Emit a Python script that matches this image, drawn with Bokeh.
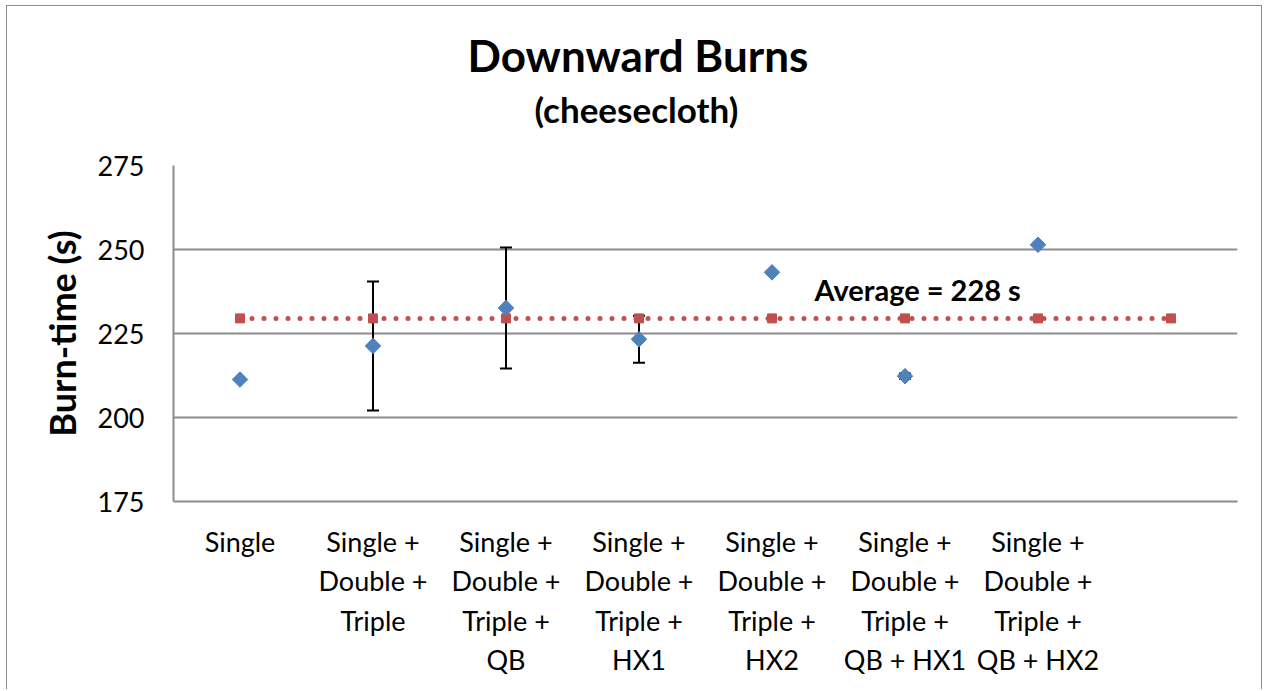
from bokeh.plotting import figure
from bokeh.models import (ColumnDataSource, FactorRange, Whisker, TeeHead, Label,
                          Title, FixedTicker)
from bokeh.embed import file_html
from bokeh.resources import INLINE

# ---- data ----
categories = ["Single", "Single +\nDouble +\nTriple", "Single +\nDouble +\nTriple +\nQB",
              "Single +\nDouble +\nTriple +\nHX1", "Single +\nDouble +\nTriple +\nHX2",
              "Single +\nDouble +\nTriple +\nQB + HX1", "Single +\nDouble +\nTriple +\nQB + HX2"]
burn_time = [211.3, 221.3, 232.6, 223.3, 243.2, 212.3, 251.4]
burn_err = [0.0, 19.2, 18.0, 7.0, 0.0, 0.8, 0.0]
extra_slot = " "
average_value = 229.5
y_ticks = [175, 200, 225, 250, 275]
title_text = "Downward Burns"
subtitle_text = "(cheesecloth)"
avg_text = "Average = 228 s"

FONT = "Lato"
all_factors = categories + [extra_slot]

p = figure(width=1256, height=684, output_backend="svg", toolbar_location=None,
           x_range=FactorRange(factors=all_factors, range_padding=0),
           y_range=(175, 275), title=None,
           min_border_left=166, min_border_right=26, min_border_top=159, min_border_bottom=189)
p.styles = {"border-top": "1px solid #8c8c8c", "border-left": "1px solid #8c8c8c",
            "border-right": "1px solid #8c8c8c", "margin-left": "6px", "margin-top": "5px"}

p.add_layout(Title(text=subtitle_text, align="left", text_font=FONT,
                   text_font_size="35px", text_font_style="bold", text_color="black",
                   offset=361, standoff=72), "above")
p.add_layout(Title(text=title_text, align="left", text_font=FONT,
                   text_font_size="44px", text_font_style="bold", text_color="black",
                   offset=294, standoff=-63), "above")

p.outline_line_color = None
p.background_fill_color = "white"
p.border_fill_color = "white"
p.xgrid.grid_line_color = None
p.ygrid.grid_line_color = "#8c8c8c"
p.ygrid.grid_line_width = 2
p.yaxis.ticker = FixedTicker(ticks=y_ticks)

for ax in (p.xaxis, p.yaxis):
    ax.axis_line_color = "#8c8c8c"
    ax.axis_line_width = 2
    ax.major_tick_line_color = None
    ax.minor_tick_line_color = None
    ax.major_label_text_font = FONT
    ax.major_label_text_color = "black"

p.yaxis.major_label_text_font_size = "27px"
p.xaxis.major_label_text_font_size = "27px"
p.yaxis.axis_label = "Burn-time (s)"
p.yaxis.axis_label_text_font = FONT
p.yaxis.axis_label_text_font_size = "36px"
p.yaxis.axis_label_text_font_style = "bold"
p.yaxis.axis_label_text_color = "black"
p.yaxis.major_label_standoff = 23
p.yaxis.axis_label_standoff = 11
p.xaxis.major_label_standoff = 17
p.xaxis.major_label_orientation = "horizontal"

# average line (dotted red with square markers)
avg_src = ColumnDataSource(dict(x=all_factors, y=[average_value] * len(all_factors)))
p.line("x", "y", source=avg_src, line_color="#C0504D", line_width=5,
       line_dash="0 12", line_cap="round")
p.scatter("x", "y", source=avg_src, marker="square", size=9,
          fill_color="#C0504D", line_color="#C0504D")

# error bars
eb_cats = [c for c, e in zip(categories, burn_err) if e > 0]
eb_up = [v + e for v, e in zip(burn_time, burn_err) if e > 0]
eb_lo = [v - e for v, e in zip(burn_time, burn_err) if e > 0]
eb_src = ColumnDataSource(dict(base=eb_cats, upper=eb_up, lower=eb_lo))
p.add_layout(Whisker(source=eb_src, base="base", upper="upper", lower="lower",
                     line_color="black", line_width=2,
                     upper_head=TeeHead(size=12, line_color="black", line_width=2),
                     lower_head=TeeHead(size=12, line_color="black", line_width=2)))

# data points (diamonds = rotated squares)
src = ColumnDataSource(dict(x=categories, y=burn_time))
p.scatter("x", "y", source=src, marker="square", angle=0.7854, size=11,
          fill_color="#4F81BD", line_color="#4F81BD")

p.add_layout(Label(x=4.82, y=238, text=avg_text, text_font=FONT,
                   text_font_size="29px", text_font_style="bold", text_color="black",
                   text_baseline="middle"))

open("out.html", "w").write(file_html(p, INLINE))
